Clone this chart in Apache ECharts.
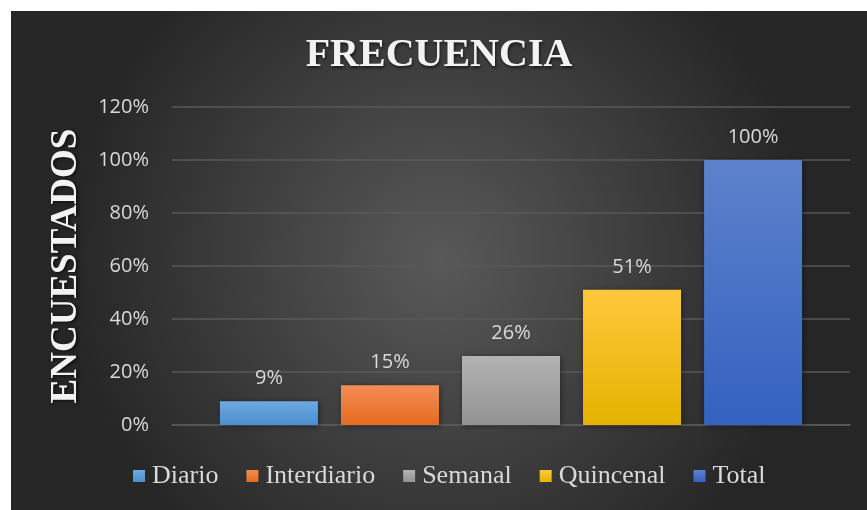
<!DOCTYPE html>
<html>
<head>
<meta charset="utf-8">
<script src="https://cdn.jsdelivr.net/npm/echarts@6/dist/echarts.min.js"></script>
<style>
  html, body { margin: 0; padding: 0; background: #ffffff; }
  #chart { position: absolute; left: 11px; top: 11px; width: 856px; height: 499px; }
</style>
</head>
<body>
<div id="chart"></div>
<script>
// datos del gráfico
const categories = ['Frecuencia']
const seriesNames = ['Diario', 'Interdiario', 'Semanal', 'Quincenal', 'Total']
const seriesValues = [9, 15, 26, 51, 100]
const yTicks = [0, 20, 40, 60, 80, 100, 120]

// colores (arriba, abajo) de cada barra
const barColors = [
  ['#6fa9df', '#4b8fd1'],
  ['#f38d55', '#e66b1e'],
  ['#b3b3b3', '#939393'],
  ['#ffc83c', '#e4b300'],
  ['#5d82cb', '#3462c0']
]
const legendColors = ['#5b9bd5', '#ed7d31', '#a5a5a5', '#ffc000', '#4472c4']

const chart = echarts.init(document.getElementById('chart'))

const series = seriesNames.map((name, i) => ({
  name: name,
  type: 'bar',
  data: [seriesValues[i]],
  barWidth: 98,
  barGap: '23.5%',
  itemStyle: {
    color: new echarts.graphic.LinearGradient(0, 0, 0, 1, [
      { offset: 0, color: barColors[i][0] },
      { offset: 1, color: barColors[i][1] }
    ]),
    shadowColor: 'rgba(0,0,0,0.45)',
    shadowBlur: 6,
    shadowOffsetX: 1,
    shadowOffsetY: 1
  },
  label: {
    show: true,
    position: 'top',
    distance: 13,
    formatter: '{c}%',
    color: '#d9d9d9',
    fontFamily: 'Open Sans',
    fontSize: 20
  }
}))

chart.setOption({
  backgroundColor: new echarts.graphic.RadialGradient(0.5, 0.5, 0.75, [
    { offset: 0, color: '#595959' },
    { offset: 1, color: '#262626' }
  ]),
  color: legendColors,
  title: {
    text: 'FRECUENCIA',
    left: 'center',
    top: 20,
    textStyle: {
      fontFamily: 'Liberation Serif',
      fontWeight: 'bold',
      fontSize: 40,
      color: '#f2f2f2',
      textShadowColor: 'rgba(0,0,0,0.6)',
      textShadowBlur: 3,
      textShadowOffsetX: 1,
      textShadowOffsetY: 2
    }
  },
  legend: {
    data: seriesNames,
    bottom: 16,
    left: 117,
    itemWidth: 12,
    itemHeight: 12,
    itemGap: 28,
    icon: 'rect',
    textStyle: {
      fontFamily: 'Liberation Serif',
      fontSize: 26,
      color: '#d9d9d9',
      padding: [0, 0, 0, 2]
    }
  },
  grid: {
    left: 161,
    right: 17,
    top: 96,
    bottom: 85,
    containLabel: false
  },
  xAxis: {
    type: 'category',
    data: categories,
    axisLine: { show: true, lineStyle: { color: '#595959', width: 1.5 } },
    axisTick: { show: false },
    axisLabel: { show: false }
  },
  yAxis: {
    type: 'value',
    min: yTicks[0],
    max: yTicks[yTicks.length - 1],
    interval: 20,
    name: 'ENCUESTADOS',
    nameLocation: 'middle',
    nameGap: 87,
    nameRotate: 90,
    nameTextStyle: {
      fontFamily: 'Liberation Serif',
      fontWeight: 'bold',
      fontSize: 37,
      color: '#f2f2f2',
      textShadowColor: 'rgba(0,0,0,0.6)',
      textShadowBlur: 3,
      textShadowOffsetX: 2,
      textShadowOffsetY: 1
    },
    axisLine: { show: false },
    axisTick: { show: false },
    axisLabel: {
      formatter: '{value}%',
      color: '#d9d9d9',
      fontFamily: 'Open Sans',
      fontSize: 20,
      margin: 23
    },
    splitLine: { lineStyle: { color: '#595959', width: 1.5 } }
  },
  series: series
})

window.addEventListener('resize', () => chart.resize())
</script>
</body>
</html>
